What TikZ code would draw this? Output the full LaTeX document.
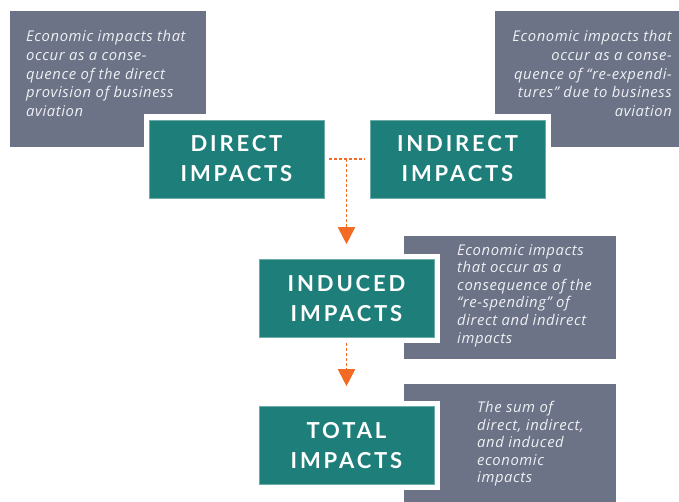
\documentclass[tikz,border=0pt]{standalone}
\usepackage{fontspec}
\setmainfont{Open Sans}
\newfontfamily\headfont[LetterSpace=13]{Lato}
\newfontfamily\notefont[LetterSpace=4]{Open Sans}
\usetikzlibrary{arrows.meta}

\definecolor{boxgreen}{HTML}{1E7F7A}
\definecolor{notegray}{HTML}{6C7386}
\definecolor{notetext}{HTML}{EEF0F4}
\definecolor{floworange}{HTML}{F26A24}

\begin{document}
\begin{tikzpicture}[x=1pt,y=-1pt,
	impact/.style={fill=boxgreen, draw=boxgreen!65!white, line width=0.6pt,
		preaction={draw=white, line width=11pt},
		minimum width=175pt, minimum height=78pt, inner sep=0pt,
		align=center, text=white,
		font=\headfont\bfseries\fontsize{22}{30}\selectfont},
	notebox/.style={fill=notegray, inner sep=0pt, anchor=north west},
	note/.style={text=notetext, inner sep=0pt,
		font=\notefont\itshape\fontsize{14.8}{18.8}\selectfont},
	lownote/.style={note, font=\notefont\itshape\fontsize{14.8}{17.6}\selectfont},
	flow/.style={draw=floworange, line width=1.8pt, dash pattern=on 3pt off 2pt}]
	%\draw[help lines] (0,0) grid[step=50] (679,502);
	\useasboundingbox (0,0) rectangle (679,502);

	% grey explanation boxes
	\node[notebox, minimum width=196pt, minimum height=136pt] (directbg) at (10,11) {};
	\node[notebox, minimum width=184pt, minimum height=136pt] (indirectbg) at (495,11) {};
	\node[notebox, minimum width=212pt, minimum height=123pt] (inducedbg) at (404,236) {};
	\node[notebox, minimum width=212pt, minimum height=118pt] (totalbg) at (404,384) {};

	\node[note, align=left, anchor=north west] (directnote) at (26,30)
		{Economic impacts that\\occur as a conse-\\quence of the direct\\provision of business\\aviation};
	\node[note, align=right, anchor=north east] (indirectnote) at (672,30)
		{Economic impacts that\\occur as a conse-\\quence of “re-expendi-\\tures” due to business\\aviation};
	\node[lownote, align=left, anchor=north west] (inducednote) at (457,244)
		{Economic impacts\\that occur as a\\consequence of the\\“re-spending” of\\direct and indirect\\impacts};
	\node[lownote, align=left, anchor=north west] (totalnote) at (477,401)
		{The sum of\\direct, indirect,\\and induced\\economic\\impacts};

	% green impact boxes
	\node[impact] (direct) at (236.5,159) {DIRECT\\IMPACTS};
	\node[impact] (indirect) at (457.5,159) {INDIRECT\\IMPACTS};
	\node[impact] (induced) at (346.5,298.5) {INDUCED\\IMPACTS};
	\node[impact] (total) at (346.5,445.5) {TOTAL\\IMPACTS};

	% dashed arrows
	\coordinate (split) at (direct.east -| induced.north);
	\draw[flow] ([xshift=5pt]direct.east) -- ([xshift=-5pt]indirect.west);
	\draw[flow, -{Triangle[width=17pt,length=17pt]}] (split) -- ([yshift=15pt]induced.north);
	\draw[flow, -{Triangle[width=17pt,length=17pt]}] ([yshift=-5pt]induced.south) -- ([yshift=20pt]total.north);
\end{tikzpicture}
\end{document}
